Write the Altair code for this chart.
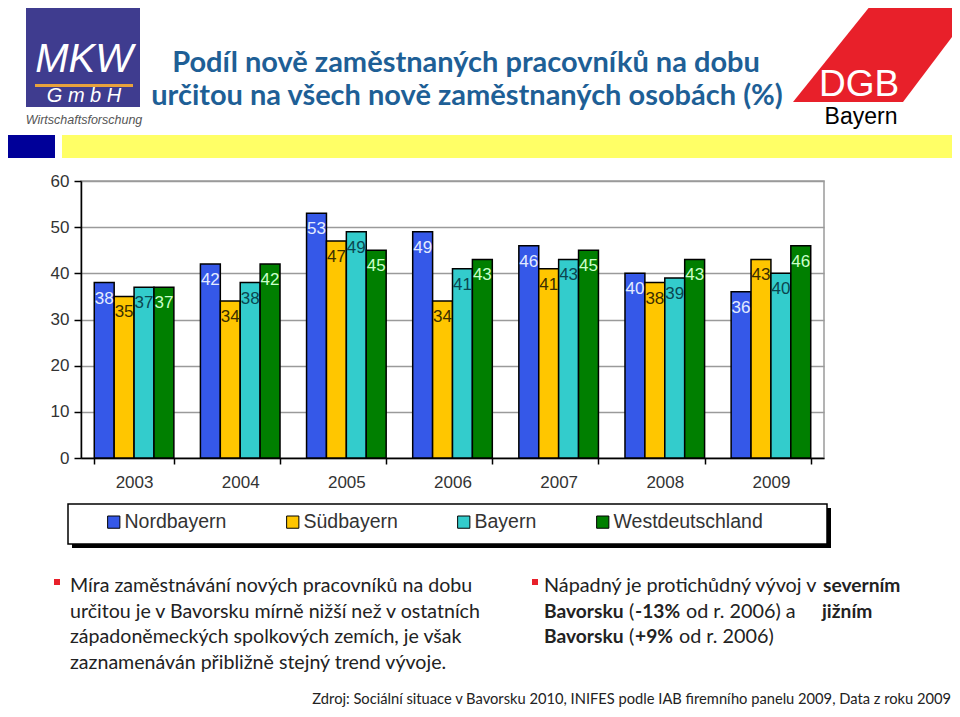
import altair as alt
import pandas as pd

# ---------------- data ----------------
years = ["2003", "2004", "2005", "2006", "2007", "2008", "2009"]
series = ["Nordbayern", "Südbayern", "Bayern", "Westdeutschland"]
nordbayern = [38, 42, 53, 49, 46, 40, 36]
suedbayern = [35, 34, 47, 34, 41, 38, 43]
bayern = [37, 38, 49, 41, 43, 39, 40]
westdeutschland = [37, 42, 45, 43, 45, 43, 46]
y_ticks = [0, 10, 20, 30, 40, 50, 60]

title_lines = ["Podíl nově zaměstnaných pracovníků na dobu",
               "určitou na všech nově zaměstnaných osobách  (%)"]
left_bullet = ["Míra zaměstnávání nových pracovníků na dobu",
               "určitou je v Bavorsku mírně nižší než v ostatních",
               "západoněmeckých spolkových zemích, je však",
               "zaznamenáván přibližně stejný trend vývoje."]
source_text = "Zdroj: Sociální situace v Bavorsku 2010, INIFES podle IAB firemního panelu 2009, Data z roku 2009"

rows = []
for s, vals in zip(series, [nordbayern, suedbayern, bayern, westdeutschland]):
    for yr, v in zip(years, vals):
        rows.append({"year": yr, "series": s, "value": v})
df = pd.DataFrame(rows)

# ---------------- styles ----------------
bar_colors = ["#3558E8", "#FFC600", "#33CCCC", "#007F00"]
label_colors = ["#E4ECFF", "#3A2E00", "#0B4650", "#CCFFCC"]
AX_FONT = "Liberation Sans"
SLIDE_FONT = "Lato"
OX, OY = 81, 181  # plot origin in page pixels

def pos_x(px):
    return alt.value(px - OX)

def pos_y(py):
    return alt.value(py - OY)

def rect(x1, y1, x2, y2, **kw):
    return alt.Chart(pd.DataFrame({"k": [0]})).mark_rect(**kw).encode(
        x=pos_x(x1), x2=pos_x(x2), y=pos_y(y1), y2=pos_y(y2))

def txt(s, x, y, **kw):
    return alt.Chart(pd.DataFrame({"t": [s]})).mark_text(**kw).encode(
        x=pos_x(x), y=pos_y(y), text="t:N")

# ---------------- main chart ----------------
x_enc = alt.X("year:N", sort=years,
              scale=alt.Scale(paddingInner=0.25, paddingOuter=0.125),
              axis=alt.Axis(title=None, labelAngle=0, tickBand="extent",
                            domainColor="black", domainWidth=1.5,
                            tickColor="black", tickWidth=1.5, tickSize=6,
                            labelPadding=10, labelFont=AX_FONT, labelFontSize=17,
                            labelColor="#333333", grid=False))
y_enc = alt.Y("value:Q", scale=alt.Scale(domain=[0, 60], nice=False),
              axis=alt.Axis(title=None, values=y_ticks, gridColor="#9a9a9a",
                            gridWidth=1.5, domainColor="black", domainWidth=1.5,
                            tickColor="black", tickWidth=1.5, tickSize=7,
                            labelPadding=5, labelFont=AX_FONT, labelFontSize=17,
                            labelColor="#333333"))
xoff = alt.XOffset("series:N", sort=series,
                   scale=alt.Scale(domain=series, paddingInner=0, paddingOuter=0))

bars = alt.Chart(df).mark_bar(stroke="black", strokeWidth=1.5).encode(
    x=x_enc, y=y_enc, xOffset=xoff,
    color=alt.Color("series:N", sort=series,
                    scale=alt.Scale(domain=series, range=bar_colors),
                    legend=alt.Legend(title=None, orient="none", legendX=23, legendY=331,
                                      direction="horizontal", columnPadding=56,
                                      symbolType="square", symbolSize=150,
                                      symbolStrokeColor="black", symbolStrokeWidth=1,
                                      labelFont=AX_FONT, labelFontSize=19.5,
                                      labelColor="#333333", labelOffset=1, padding=0)))

labels = alt.Chart(df).mark_text(dy=16, fontSize=17, font=AX_FONT, baseline="middle").encode(
    x=alt.X("year:N", sort=years), y=alt.Y("value:Q"), xOffset=alt.XOffset("series:N", sort=series),
    text="value:Q",
    color=alt.Color("series:N", scale=alt.Scale(domain=series, range=label_colors), legend=None))

# ---------------- slide decorations ----------------
deco = [
    # MKW logo
    rect(26, 0, 140, 107, color="#3F3C8F"),
    rect(35, 84, 133, 87, color="#E8A23C"),
    txt("MKW", 84, 72, font=AX_FONT, fontSize=40, fontStyle="italic", color="white", align="center", baseline="alphabetic"),
    txt("G  m  b  H", 84, 102, font=AX_FONT, fontSize=20, fontStyle="italic", color="white", align="center", baseline="alphabetic"),
    txt("Wirtschaftsforschung", 84, 124, font=AX_FONT, fontSize=12.5, fontStyle="italic", color="#555555", align="center", baseline="alphabetic"),
    # bands
    rect(0, 135, 55, 158, color="#000099"),
    rect(62, 135, 960, 158, color="#FFFF66"),
    # legend frame
    rect(72, 508, 831, 548, color="black"),
    rect(68, 504, 827, 544, fill="white", stroke="black", strokeWidth=1.5),
    # bullets
    rect(54, 579, 60, 585, color="#E8202A"),
    rect(532, 579, 538, 585, color="#E8202A"),
]

dgb_shape = alt.Chart(pd.DataFrame({"k": [0]})).mark_point(
    shape="M -0.115 -0.51 L 0.935 -0.51 L 0.165 0.51 L -0.935 0.51 Z",
    filled=True, fill="#E8202A", opacity=1, strokeWidth=0, size=40000).encode(
    x=pos_x(886.5), y=pos_y(51))
deco += [
    dgb_shape,
    txt("DGB", 859, 96, font=AX_FONT, fontSize=37, color="white", align="center", baseline="alphabetic"),
    txt("Bayern", 861, 124, font=AX_FONT, fontSize=23, color="black", align="center", baseline="alphabetic"),
]

# title
TCOL = "#1E5F96"
deco += [
    txt(title_lines[0], 466, 72, font=SLIDE_FONT, fontSize=29, fontWeight="bold", color=TCOL, align="center", baseline="alphabetic"),
    txt(title_lines[1], 467, 105, font=SLIDE_FONT, fontSize=29, fontWeight="bold", color=TCOL, align="center", baseline="alphabetic"),
]

# left bullet text
for i, line in enumerate(left_bullet):
    deco.append(txt(line, 70, 592 + i * 25.7, font=SLIDE_FONT, fontSize=19.6, color="#222222",
                    align="left", baseline="alphabetic"))

# right bullet text (mixed weights)
right_segments = [
    ("Nápadný je protichůdný vývoj v", 544, 592, "normal"),
    ("severním", 823, 592, "bold"),
    ("Bavorsku", 544, 618, "bold"),
    ("(", 629, 618, "normal"),
    ("-13%", 635, 618, "bold"),
    ("od r. 2006) a", 686, 618, "normal"),
    ("jižním", 822, 618, "bold"),
    ("Bavorsku", 544, 643, "bold"),
    ("(", 629, 643, "normal"),
    ("+9%", 635, 643, "bold"),
    ("od r. 2006)", 679, 643, "normal"),
]
for s, x0, y0, w in right_segments:
    fs = 19.2 if w == "bold" else 19.8
    deco.append(txt(s, x0, y0, font=SLIDE_FONT, fontSize=fs, fontWeight=w, color="#222222",
                    align="left", baseline="alphabetic"))

# source
deco.append(txt(source_text, 951, 704, font=SLIDE_FONT, fontSize=14.7, color="#222222",
                align="right", baseline="alphabetic"))

chart = alt.layer(*deco[:9], bars, labels, *deco[9:]).resolve_scale(color="independent").properties(
    width=743, height=277,
    padding={"left": 73, "top": 173, "right": 128, "bottom": 251},
    autosize=alt.AutoSizeParams(type="none"),
    background="white",
).configure_view(stroke="#9a9a9a", strokeWidth=1.5)

chart.save("out.html", embed_options={"renderer": "svg", "actions": False})
